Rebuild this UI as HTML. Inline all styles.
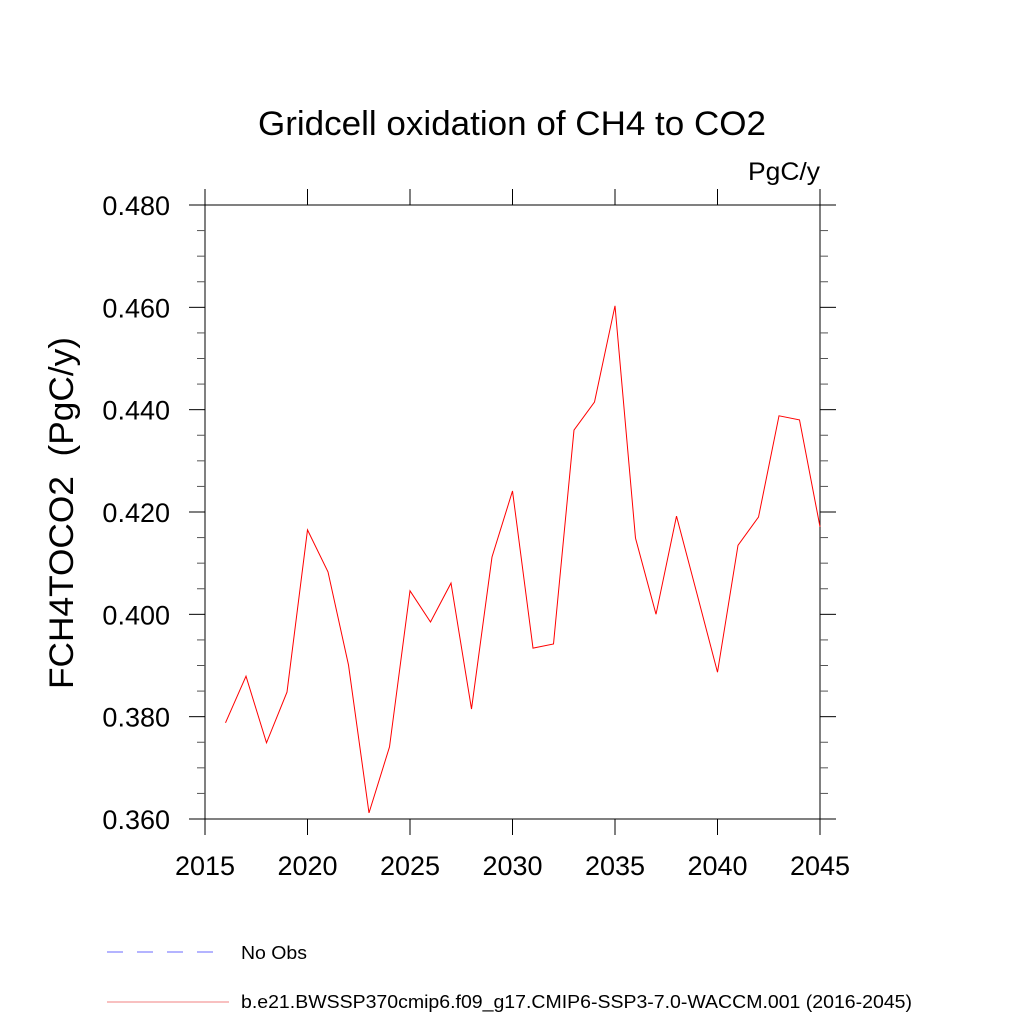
<!DOCTYPE html>
<html><head><meta charset="utf-8">
<style>
body{margin:0;background:#fff;}
svg{display:block;font-family:"Liberation Sans",sans-serif;}
</style></head>
<body>
<svg id="chart" width="1024" height="1024" viewBox="0 0 1024 1024" xmlns="http://www.w3.org/2000/svg">
<rect width="1024" height="1024" fill="#fff"/>
<text x="512" y="135" font-size="34" text-anchor="middle" textLength="508" lengthAdjust="spacingAndGlyphs" fill="#000">Gridcell oxidation of CH4 to CO2</text>
<text x="820" y="180" font-size="25" text-anchor="end" textLength="72" lengthAdjust="spacingAndGlyphs" fill="#000">PgC/y</text>
<text transform="translate(73,513) rotate(-90)" font-size="34" text-anchor="middle" textLength="352" lengthAdjust="spacingAndGlyphs" xml:space="preserve" fill="#000">FCH4TOCO2  (PgC/y)</text>
<g id="axes"></g>
<g id="series"></g>
<g>
<line x1="107" y1="952" x2="217" y2="952" stroke="#6a6aff" stroke-width="1" stroke-dasharray="16,14"/>
<text x="241" y="959" font-size="18" textLength="66" lengthAdjust="spacingAndGlyphs" fill="#000">No Obs</text>
<line x1="107" y1="1002" x2="229" y2="1002" stroke="#f08080" stroke-width="1"/>
<text x="241" y="1008" font-size="18" textLength="671" lengthAdjust="spacingAndGlyphs" fill="#000">b.e21.BWSSP370cmip6.f09_g17.CMIP6-SSP3-7.0-WACCM.001 (2016-2045)</text>
</g>
</svg>
<script>
const years=[2016,2017,2018,2019,2020,2021,2022,2023,2024,2025,2026,2027,2028,2029,2030,2031,2032,2033,2034,2035,2036,2037,2038,2039,2040,2041,2042,2043,2044,2045];
const values=[0.3788,0.3879,0.3749,0.3848,0.4165,0.4083,0.3901,0.3612,0.3741,0.4046,0.3985,0.4061,0.3815,0.4112,0.4241,0.3934,0.3942,0.4360,0.4415,0.4603,0.4149,0.4000,0.4192,0.4040,0.3887,0.4135,0.4190,0.4388,0.4380,0.4171];
const xTicks=[2015,2020,2025,2030,2035,2040,2045];
const yTicks=[0.36,0.38,0.40,0.42,0.44,0.46,0.48];
const yTickLabels=["0.360","0.380","0.400","0.420","0.440","0.460","0.480"];
const L=205,R=820,T=205,B=819,xMin=2015,xMax=2045,yMin=0.36,yMax=0.48;
const xs=v=>L+(v-xMin)/(xMax-xMin)*(R-L);
const ys=v=>B-(v-yMin)/(yMax-yMin)*(B-T);
const NS="http://www.w3.org/2000/svg";
const axes=document.getElementById('axes'),series=document.getElementById('series');
function mk(tag,attrs,parent){const e=document.createElementNS(NS,tag);for(const k in attrs)e.setAttribute(k,attrs[k]);parent.appendChild(e);return e;}
const frame=mk('rect',{x:L,y:T,width:R-L,height:B-T,fill:'none',stroke:'#000','stroke-width':1},axes);


xTicks.forEach(v=>{
  const x=xs(v);
  const t1=mk('line',{x1:x,y1:B,x2:x,y2:B+16,stroke:'#000'},axes);
  
  
  const t2=mk('line',{x1:x,y1:T,x2:x,y2:T-16,stroke:'#000'},axes);
  
  
  const lb=mk('text',{x:x,y:875,'font-size':27,'text-anchor':'middle',fill:'#000'},axes);
  lb.textContent=v;
  
  
});
yTicks.forEach((v,i)=>{
  const y=ys(v);
  const t1=mk('line',{x1:L,y1:y,x2:L-16,y2:y,stroke:'#000'},axes);
  
  
  const t2=mk('line',{x1:R,y1:y,x2:R+16,y2:y,stroke:'#000'},axes);
  
  
  const lb=mk('text',{x:170,y:y+10,'font-size':27,'text-anchor':'end',fill:'#000'},axes);
  lb.textContent=yTickLabels[i];
  
  
  if(i<yTicks.length-1){
    for(let k=1;k<4;k++){
      const yy=ys(v+k*(yTicks[1]-yTicks[0])/4);
      const m1=mk('line',{x1:L,y1:yy,x2:L-8,y2:yy,stroke:'#555'},axes);
      
      
      const m2=mk('line',{x1:R,y1:yy,x2:R+8,y2:yy,stroke:'#555'},axes);
      
      
    }
  }
});
const pts=years.map((yr,i)=>xs(yr).toFixed(1)+','+ys(values[i]).toFixed(1)).join(' ');
const line=mk('polyline',{points:pts,fill:'none',stroke:'#ff0000','stroke-width':1},series);


</script>
</body></html>
